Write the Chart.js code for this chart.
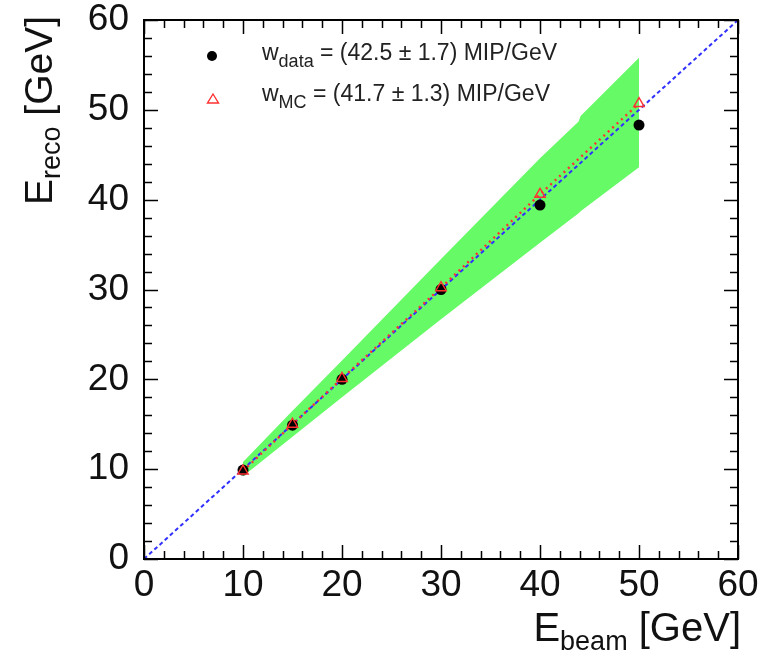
<!DOCTYPE html>
<html>
<head>
<meta charset="utf-8">
<script src="https://cdn.jsdelivr.net/npm/chart.js@4/dist/chart.umd.min.js"></script>
<style>
  html, body { margin: 0; padding: 0; background: #fff; }
  #wrap { width: 775px; height: 657px; }
</style>
</head>
<body>
<div id="wrap"><canvas id="linChart" width="775" height="657"></canvas></div>
<script>
    // beam energies and reconstructed energies
    const beamEnergy = [10, 15, 20, 30, 40, 50];
    const recoData = [9.9, 14.9, 20.0, 30.0, 39.4, 48.3];
    const recoMC = [9.8, 15.0, 20.1, 30.2, 40.6, 50.7];

    // uncertainty band on the calibration
    const bandX = [10, 15, 20, 30, 40, 43.9, 44.1, 50];
    const bandUpper = [10.8, 16.5, 22.1, 33.4, 44.6, 48.7, 49.3, 55.8];
    const bandLower = [9.2, 13.6, 18.0, 26.7, 35.2, 38.5, 38.7, 43.6];

    // diagonal E_reco = E_beam
    const diagX = [0, 60];

    const tickValues = [0, 10, 20, 30, 40, 50, 60];
    const minorStep = 2;

    const legendRows = [
        { sub: 'data', text: ' = (42.5 \u00b1 1.7) MIP/GeV' },
        { sub: 'MC', text: ' = (41.7 \u00b1 1.3) MIP/GeV' }
    ];

    const FONT = "'Liberation Sans', Arial, Helvetica, sans-serif";
    const GREEN = '#66fa66';
    const BLUE = '#3030ff';
    const RED = '#ff3030';

    function pts(xs, ys) {
        return xs.map((x, i) => ({ x: x, y: ys[i] }));
    }

    // frame with inward ticks on all four sides, ROOT style
    const framePlugin = {
        id: 'frame',
        afterDatasetsDraw(chart) {
            const c = chart.ctx;
            const xs = chart.scales.x, ys = chart.scales.y;
            const a = chart.chartArea;
            c.save();
            c.strokeStyle = '#000';
            c.lineWidth = 2;
            c.strokeRect(a.left, a.top, a.right - a.left, a.bottom - a.top);
            c.lineWidth = 1.5;
            c.beginPath();
            for (let v = xs.min; v <= xs.max + 1e-6; v += minorStep) {
                const len = (v % 10 === 0) ? 14 : 8;
                const px = Math.round(xs.getPixelForValue(v)) + 0.5;
                c.moveTo(px, a.bottom); c.lineTo(px, a.bottom - len);
                c.moveTo(px, a.top); c.lineTo(px, a.top + len);
            }
            for (let v = ys.min; v <= ys.max + 1e-6; v += minorStep) {
                const len = (v % 10 === 0) ? 14 : 8;
                const py = Math.round(ys.getPixelForValue(v)) + 0.5;
                c.moveTo(a.left, py); c.lineTo(a.left + len, py);
                c.moveTo(a.right, py); c.lineTo(a.right - len, py);
            }
            c.stroke();
            c.restore();
        },
        afterDraw(chart) {
            const c = chart.ctx;
            c.save();
            c.fillStyle = '#111';

            // y axis title, rotated
            c.translate(52, 205);
            c.rotate(-Math.PI / 2);
            c.textBaseline = 'alphabetic';
            c.font = '39px ' + FONT;
            c.fillText('E', 0, 0);
            let w = c.measureText('E').width;
            c.font = '27px ' + FONT;
            c.fillText('reco', w, 8);
            w += c.measureText('reco').width;
            c.font = '39px ' + FONT;
            c.fillText(' [GeV]', w, 0);
            c.restore();

            // x axis title, right aligned
            c.save();
            c.fillStyle = '#111';
            c.font = '40px ' + FONT;
            const wE = c.measureText('E').width;
            const wG = c.measureText(' [GeV]').width;
            c.font = '27px ' + FONT;
            const wB = c.measureText('beam').width;
            let x0 = 741 - wE - wB - wG;
            c.font = '40px ' + FONT;
            c.fillText('E', x0, 641);
            c.font = '27px ' + FONT;
            c.fillText('beam', x0 + wE, 650);
            c.font = '40px ' + FONT;
            c.fillText(' [GeV]', x0 + wE + wB, 641);
            c.restore();

            // legend
            c.save();
            c.fillStyle = '#000';
            c.beginPath();
            c.arc(212, 56, 5, 0, Math.PI * 2);
            c.fill();
            c.strokeStyle = RED;
            c.lineWidth = 1.4;
            c.beginPath();
            c.moveTo(213, 94); c.lineTo(218.5, 103); c.lineTo(207.5, 103); c.closePath();
            c.stroke();

            c.fillStyle = '#222';
            const baseY = [60, 101];
            legendRows.forEach((row, i) => {
                let lx = 262;
                c.font = '23px ' + FONT;
                c.fillText('w', lx, baseY[i]);
                lx += c.measureText('w').width;
                c.font = '18px ' + FONT;
                c.fillText(row.sub, lx, baseY[i] + 7);
                lx += c.measureText(row.sub).width;
                c.font = '23px ' + FONT;
                c.fillText(row.text, lx, baseY[i]);
            });
            c.restore();
        }
    };

    const axisCommon = {
        type: 'linear',
        min: 0,
        max: 60,
        grid: { display: false, drawTicks: false },
        border: { display: false },
        afterBuildTicks: (scale) => { scale.ticks = tickValues.map(v => ({ value: v })); }
    };

    new Chart(document.getElementById('linChart').getContext('2d'), {
        type: 'scatter',
        data: {
            datasets: [
                {
                    data: pts(bandX, bandUpper), showLine: true, fill: '+1',
                    backgroundColor: GREEN, borderWidth: 0, pointRadius: 0, tension: 0, order: 10
                },
                {
                    data: pts(bandX, bandLower), showLine: true, fill: false,
                    borderWidth: 0, pointRadius: 0, tension: 0, order: 9
                },
                {
                    data: pts(diagX, diagX), showLine: true, borderColor: BLUE, borderWidth: 2,
                    borderDash: [4, 3], pointRadius: 0, order: 5
                },
                {
                    data: pts(beamEnergy, recoMC), showLine: true, borderColor: RED, borderWidth: 2.4,
                    borderDash: [2, 4], pointRadius: 0, order: 4
                },
                {
                    data: pts(beamEnergy, recoData), showLine: false, pointRadius: 5.5,
                    pointBackgroundColor: '#000', pointBorderColor: '#000', pointBorderWidth: 0, order: 2
                },
                {
                    data: pts(beamEnergy, recoMC), showLine: false, pointStyle: 'triangle', pointRadius: 6,
                    pointBackgroundColor: 'rgba(0,0,0,0)', pointBorderColor: RED, pointBorderWidth: 1.4, order: 1
                }
            ]
        },
        options: {
            responsive: false,
            animation: false,
            events: [],
            layout: { padding: { top: 20, right: 37, left: 0, bottom: 0 } },
            plugins: { legend: { display: false }, tooltip: { enabled: false } },
            scales: {
                x: Object.assign({}, axisCommon, {
                    position: 'bottom',
                    ticks: { color: '#111', font: { family: FONT, size: 37 }, padding: 5, maxRotation: 0, autoSkip: false },
                    afterFit: (scale) => { scale.height = 98; scale.paddingLeft = 0; scale.paddingRight = 0; }
                }),
                y: Object.assign({}, axisCommon, {
                    position: 'left',
                    ticks: { color: '#111', font: { family: FONT, size: 37 }, padding: 15, autoSkip: false },
                    afterFit: (scale) => { scale.width = 144; scale.paddingTop = 0; scale.paddingBottom = 0; }
                })
            }
        },
        plugins: [framePlugin]
    });
</script>
</body>
</html>
